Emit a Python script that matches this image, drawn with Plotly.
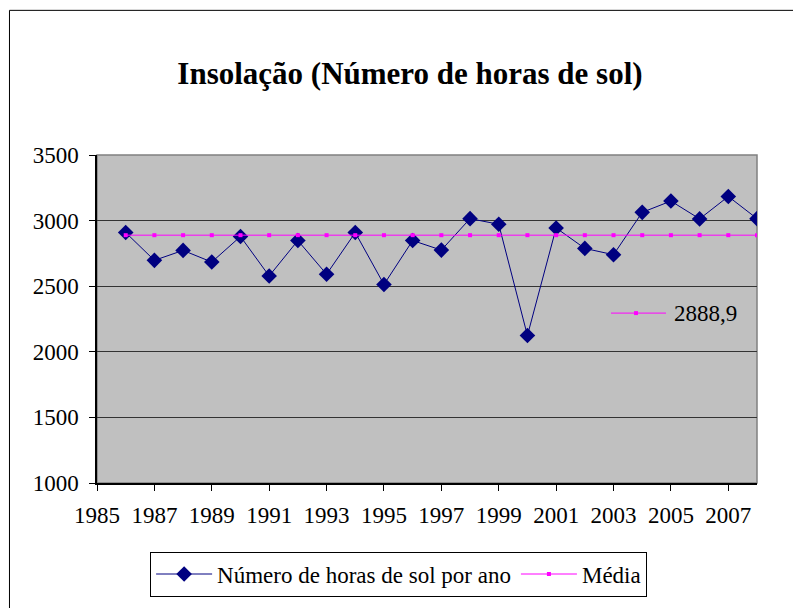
import plotly.graph_objects as go

# Annual sunshine hours (insolation) and the long-term mean
years = list(range(1986, 2009))
hours = [2909, 2697, 2773, 2684, 2879, 2578, 2848, 2591, 2909, 2513, 2848, 2775,
         3015, 2972, 2124, 2944, 2788, 2740, 3063, 3149, 3013, 3184, 3015]
MEAN = 2888.9
x_ticks = list(range(1985, 2008, 2))
y_ticks = list(range(1000, 3501, 500))

FONT = "Liberation Serif"
NAVY = "#000080"
PINK = "#FF00FF"

fig = go.Figure()

fig.add_trace(go.Scatter(
    x=years, y=hours, mode="lines+markers",
    name="Número de horas de sol por ano",
    line=dict(color=NAVY, width=1),
    marker=dict(symbol="diamond", size=12, color=NAVY, line=dict(color=NAVY, width=0)),
))

fig.add_trace(go.Scatter(
    x=years, y=[MEAN] * len(years), mode="lines+markers",
    name="Média",
    line=dict(color=PINK, width=1),
    marker=dict(symbol="square", size=4, color=PINK),
))

# Plot area frame (grey top/right edge, drawn above the grid)
fig.add_shape(type="rect", xref="paper", yref="paper", x0=0, x1=1, y0=0, y1=1,
              line=dict(color="#808080", width=1.5), fillcolor="rgba(0,0,0,0)",
              layer="between")

# Outer chart border (left and top edges; the rest runs past the page)
fig.add_shape(type="rect", xref="paper", yref="paper", x0=-0.1326, x1=1.08,
              y0=-0.45, y1=1.441, line=dict(color="black", width=1),
              fillcolor="rgba(0,0,0,0)", layer="below")

# Label for the mean line with its key
key_y = 0.518
fig.add_shape(type="line", xref="paper", yref="paper", x0=0.7788, x1=0.8621,
              y0=key_y, y1=key_y, line=dict(color=PINK, width=1))
fig.add_shape(type="rect", xref="paper", yref="paper", x0=0.8137, x1=0.8197,
              y0=key_y - 0.006, y1=key_y + 0.006, line=dict(width=0),
              fillcolor=PINK)
fig.add_annotation(xref="paper", yref="paper", x=0.871, y=key_y,
                   xanchor="left", yanchor="middle", showarrow=False,
                   text=f"{MEAN:.1f}".replace(".", ","),
                   font=dict(family=FONT, size=23, color="black"))

fig.update_layout(
    width=793, height=608,
    margin=dict(l=97, r=36, t=155, b=123),
    paper_bgcolor="white",
    plot_bgcolor="#C0C0C0",
    font=dict(family=FONT, size=22, color="black"),
    title=dict(text="<b>Insolação (Número de horas de sol)</b>",
               x=0.517, xanchor="center", y=1 - 73 / 608, yanchor="middle",
               font=dict(family=FONT, size=31, color="black")),
    showlegend=True,
    legend=dict(orientation="h", x=0.457, xanchor="center", y=-0.209,
                yanchor="top", bgcolor="white", bordercolor="black",
                borderwidth=1, font=dict(family=FONT, size=23, color="black"),
                itemwidth=56),
    xaxis=dict(range=[1985, 2008], tickmode="array", tickvals=x_ticks,
               ticks="outside", ticklen=6, tickcolor="black", showgrid=False,
               showline=True, linecolor="black", linewidth=1.5, zeroline=False,
               ticklabelstandoff=5,
               tickfont=dict(family=FONT, size=23)),
    yaxis=dict(range=[1000, 3500], tickmode="array", tickvals=y_ticks,
               ticks="outside", ticklen=6, tickcolor="black", showgrid=True,
               gridcolor="#333333", gridwidth=1, showline=True,
               linecolor="black", linewidth=1.5, zeroline=False,
               ticklabelstandoff=6,
               tickfont=dict(family=FONT, size=23)),
)

fig.write_html("out.html")
